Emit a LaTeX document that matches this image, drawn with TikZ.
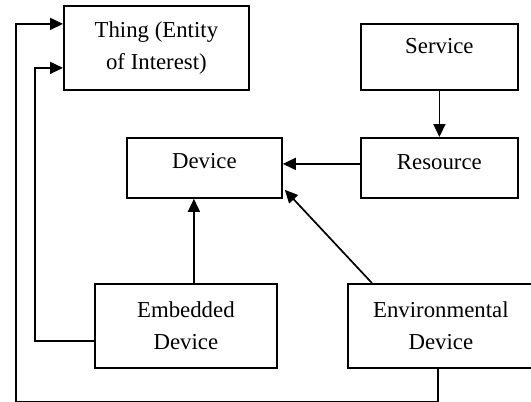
\documentclass[tikz,border=0pt]{standalone}
\usepackage{fontspec}
\setmainfont{Liberation Serif}
\usetikzlibrary{arrows.meta}
\begin{document}
\begin{tikzpicture}[x=1pt,y=-1pt,
  boxbase/.style={draw, line width=1.8pt, inner sep=0pt, anchor=north west, font=\fontsize{22.8}{31.7}\selectfont},
  twobox/.style={boxbase, align=center, minimum height=84pt},
  onebox/.style={boxbase},
  arr/.style={line width=1.7pt, -{Triangle[length=13pt,width=12pt]}}]
\useasboundingbox (0,0) rectangle (531,402);
\node[twobox, minimum width=185pt] (thing) at (63,5) {Thing (Entity\\of Interest)};
\node[onebox, minimum width=157pt, text height=30pt, text depth=36pt] (service) at (360,23) {Service};
\node[onebox, minimum width=157pt, text height=32pt, text depth=28pt] (resource) at (360,137) {Resource};
\node[onebox, minimum width=155pt, text height=31pt, text depth=29pt] (device) at (126,137) {Device};
\node[twobox, minimum width=182pt] (embedded) at (94,283) {Embedded\\Device};
\node[twobox, minimum width=186pt] (envdev) at (347,283) {Environmental\\Device};
\draw[arr] (service) -- (resource);
\draw[arr] ([yshift=4pt]resource.west) -- ([yshift=4pt]resource.west -| device.east);
\draw[arr] ([xshift=8pt]embedded.north) -- ([xshift=8pt]embedded.north |- device.south);
\draw[arr] ([xshift=-69pt]envdev.north) -- ([xshift=2pt,yshift=9pt]device.south east);
\draw[arr] ([yshift=-15pt]embedded.west) -- ++(-59,0) |- ([yshift=-20pt]thing.west);
\draw[arr] ([xshift=-3pt]envdev.south) -- ++(0,33) -- ++(-422,0) |- ([yshift=24pt]thing.west);
\end{tikzpicture}
\end{document}
